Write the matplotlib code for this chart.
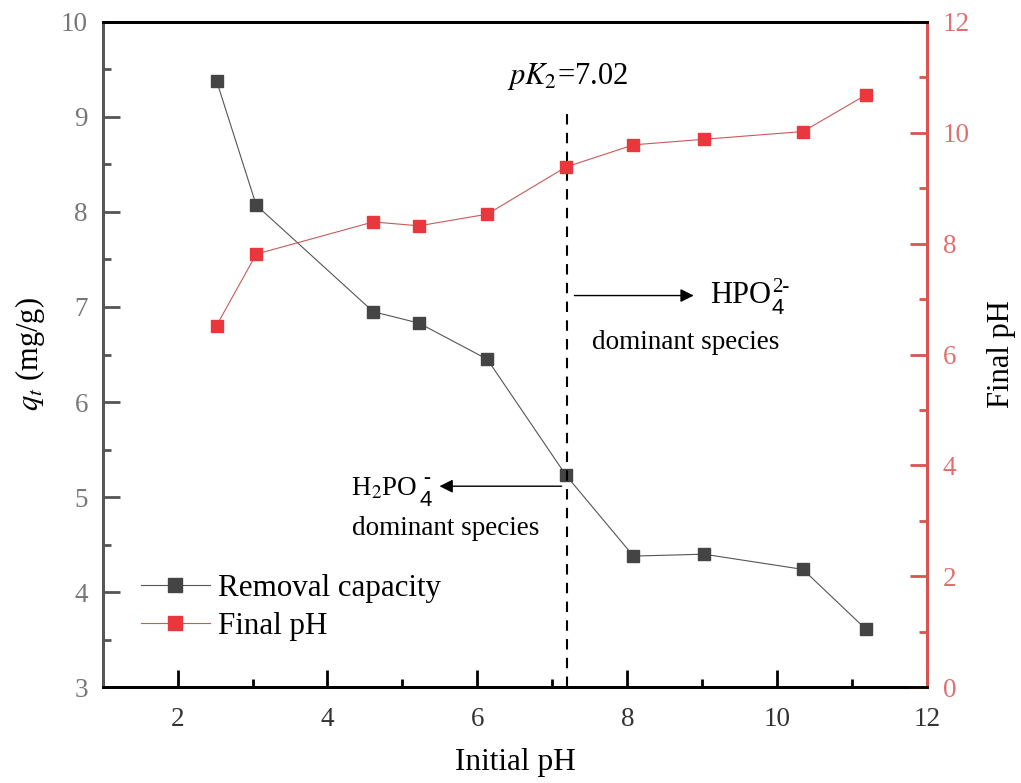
import matplotlib
matplotlib.use("Agg")
import matplotlib.pyplot as plt
from matplotlib.ticker import MultipleLocator

initial_ph = [2.52, 3.05, 4.61, 5.22, 6.13, 7.18, 8.08, 9.02, 10.34, 11.18]
removal_capacity = [9.38, 8.07, 6.95, 6.83, 6.45, 5.23, 4.38, 4.40, 4.24, 3.61]
final_ph = [6.52, 7.81, 8.39, 8.32, 8.53, 9.38, 9.78, 9.88, 10.02, 10.68]
pk_line_x = 7.2
labels = ["Removal capacity", "Final pH"]

plt.rcParams['font.family'] = ['Liberation Serif', 'DejaVu Serif']
plt.rcParams['mathtext.fontset'] = 'stix'

RED = '#e8383d'
RED_AX = '#d9534f'
RED_TXT = '#e07070'
DARK = '#444444'

fig = plt.figure(figsize=(10.21, 7.83), dpi=100)
ax = fig.add_axes([0.1004, 0.1222, 0.808, 0.8501])
ax2 = ax.twinx()

l1, = ax.plot(initial_ph, removal_capacity, '-s', color='#555555', lw=0.8,
              mfc=DARK, mec=DARK, ms=8.6, label=labels[0])
l2, = ax2.plot(initial_ph, final_ph, '-s', color='#c85a5a', lw=0.8,
               mfc=RED, mec=RED, ms=8.6, label=labels[1])

ax.set_xlim(1, 12)
ax.set_ylim(3, 10)
ax2.set_ylim(0, 12)

ax.xaxis.set_major_locator(MultipleLocator(2))
ax.xaxis.set_minor_locator(MultipleLocator(1))
ax.yaxis.set_major_locator(MultipleLocator(1))
ax.yaxis.set_minor_locator(MultipleLocator(0.5))
ax2.yaxis.set_major_locator(MultipleLocator(2))
ax2.yaxis.set_minor_locator(MultipleLocator(1))

ax.tick_params(axis='x', which='major', direction='in', length=12, width=2,
               labelsize=19.5, labelcolor='#333333', pad=14, top=False)
ax.tick_params(axis='x', which='minor', direction='in', length=6, width=2, top=False)
ax.tick_params(axis='y', which='major', direction='in', length=12, width=2,
               color='#555555', labelsize=19.5, labelcolor='#777777', pad=10.5)
ax.tick_params(axis='y', which='minor', direction='in', length=6, width=2, color='#555555')
ax2.tick_params(axis='y', which='major', direction='in', length=12, width=2,
                color=RED_AX, labelsize=19.5, labelcolor=RED_TXT, pad=11)
ax2.tick_params(axis='y', which='minor', direction='in', length=6, width=2, color=RED_AX)

for a in (ax, ax2):
    a.spines['top'].set_color('black')
    a.spines['top'].set_linewidth(2)
    a.spines['bottom'].set_color('black')
    a.spines['bottom'].set_linewidth(2)
    a.spines['left'].set_color('#555555')
    a.spines['left'].set_linewidth(2)
    a.spines['right'].set_color(RED_AX)
    a.spines['right'].set_linewidth(2)

ax.set_xlabel('Initial pH', fontsize=22.5, labelpad=12)
ax.set_ylabel(r'$q_t$ (mg/g)', fontsize=22, labelpad=10)
ax2.set_ylabel('Final pH', fontsize=22, labelpad=12)

# dashed pK2 line
ax.plot([pk_line_x, pk_line_x], [3, 9.09], ls=(0, (5, 4)), color='black', lw=1.5)
ax.text(pk_line_x, 9.42, r'$pK_{\mathit{2}}$=7.02', fontsize=22, ha='center', va='center')

# right arrow and HPO4 2- label
ax.annotate('', xy=(8.92, 7.12), xytext=(7.256, 7.12),
            arrowprops=dict(arrowstyle='-|>', color='black', lw=1, mutation_scale=20))
t_hpo = ax.text(9.1, 7.04, 'HPO', fontsize=22, ha='left', va='baseline')
ax.annotate('4', xy=(1.0, 7.04), xycoords=(t_hpo, 'data'), xytext=(0.5, -7.5),
            textcoords='offset points', fontsize=16, va='baseline', ha='left',
            family=['Liberation Sans', 'DejaVu Sans'])
ax.annotate('2-', xy=(1.0, 7.04), xycoords=(t_hpo, 'data'), xytext=(0.5, 8),
            textcoords='offset points', fontsize=15, va='baseline', ha='left')
ax.text(8.77, 6.63, 'dominant species', fontsize=19.5, ha='center', va='center')

# left arrow and H2PO4- label
ax.annotate('', xy=(5.456, 5.115), xytext=(7.16, 5.115),
            arrowprops=dict(arrowstyle='-|>', color='black', lw=1, mutation_scale=20))
t_h2 = ax.text(4.32, 5.02, r'H$_2$PO', fontsize=19.5, ha='left', va='baseline')
ax.annotate('4', xy=(1.0, 5.02), xycoords=(t_h2, 'data'), xytext=(1.5, -7.5),
            textcoords='offset points', fontsize=16, va='baseline', ha='left',
            family=['Liberation Sans', 'DejaVu Sans'])
ax.annotate('-', xy=(1.0, 5.02), xycoords=(t_h2, 'data'), xytext=(4, 9),
            textcoords='offset points', fontsize=15, va='baseline', ha='left')
ax.text(5.57, 4.675, 'dominant species', fontsize=19.5, ha='center', va='center')

leg = ax.legend(handles=[l1, l2], loc='upper left', bbox_to_anchor=(0.0321, 0.1895),
                frameon=False, fontsize=22.3, handlelength=2.2, handletextpad=0.28,
                labelspacing=0.3, borderaxespad=0, markerscale=1.1)

fig.savefig('out.png', dpi=100)
